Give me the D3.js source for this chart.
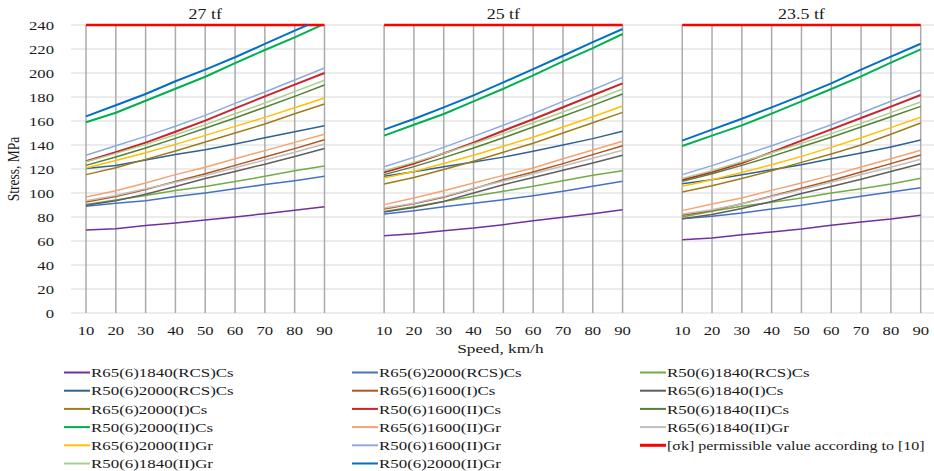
<!DOCTYPE html>
<html>
<head>
<meta charset="utf-8">
<script src="https://cdn.jsdelivr.net/npm/d3@7"></script>
<style>
  body { margin: 0; background: #fff; }
  text { font-family: "Liberation Serif", "Times New Roman", serif; fill: #1a1a1a; }
</style>
</head>
<body>
<svg id="chart" width="934" height="471"></svg>
<script>
// panels (axle load) and speeds on the category axis
const panels = ["27 tf", "25 tf", "23.5 tf"];
const speeds = [10, 20, 30, 40, 50, 60, 70, 80, 90];
const yTicks = [0, 20, 40, 60, 80, 100, 120, 140, 160, 180, 200, 220, 240];

// stress values, MPa: 9 speeds for 27 tf, then 25 tf, then 23.5 tf
const r65_1840_RCS_Cs = [69.2, 70.3, 73, 75, 77.5, 80, 82.8, 85.6, 88.6,
                         64.4, 66.1, 68.6, 70.8, 73.6, 76.9, 79.7, 82.8, 86.1,
                         61.1, 62.5, 65.3, 67.5, 70, 73.1, 75.8, 78.3, 81.4];
const r65_2000_RCS_Cs = [88.9, 91.5, 93.6, 97, 100, 103.5, 107, 110.3, 113.9,
                         82.5, 85.3, 88.6, 91.4, 94.4, 97.8, 101.4, 105.6, 109.7,
                         78.6, 80.6, 83.3, 86.7, 89.7, 93.6, 97.2, 100.8, 104.4];
const r50_1840_RCS_Cs = [90.5, 94.2, 98, 102, 105.5, 109.5, 113.9, 118.6, 122.5,
                         84.5, 88.5, 93, 97.2, 101.4, 105.6, 110.3, 114.7, 118.6,
                         80, 84.7, 88.9, 92.2, 95.8, 100, 103.6, 107.5, 112.2];
const r50_2000_RCS_Cs = [120.5, 123, 127.5, 132, 136, 140.8, 146, 151, 156,
                         113.9, 117.8, 121.8, 125.8, 129.9, 134.7, 140, 145.3, 151.4,
                         107.8, 111.1, 115.3, 119.4, 123.6, 128.6, 133.3, 138.3, 144.2];
const r65_1600_I_Cs = [92.5, 97, 103, 109.5, 116, 123, 130, 137, 144.4,
                       86.7, 91, 96.5, 103.5, 111, 117.5, 124.5, 132, 139.4,
                       81.4, 85.5, 91, 97.5, 104, 110.5, 117.5, 124.5, 131.7];
const r65_1840_I_Cs = [89.7, 93.5, 99, 105.5, 112, 118, 124, 130.5, 137,
                       84.2, 88, 93, 100, 106.9, 113, 119, 125, 131.4,
                       78.6, 82, 87, 93, 99.5, 105.5, 111.5, 118, 124.4];
const r65_2000_I_Cs = [115.3, 121, 128, 135, 142.5, 150, 157.5, 166, 174.2,
                       107.5, 113, 119.5, 126.5, 134, 141.5, 150, 158.5, 167.2,
                       100.8, 106, 112, 118.5, 125.5, 132.5, 140, 149, 158.3];
const r50_1600_II_Cs = [126.4, 134, 142, 151, 160.3, 170.5, 180.5, 190.3, 200,
                        117.2, 124.5, 133, 142, 151.9, 161.5, 171.5, 181.5, 191.4,
                        110.8, 117.5, 125, 134, 143.6, 153, 162.5, 172, 181.7];
const r50_1840_II_Cs = [123, 130, 137.5, 145.5, 154, 162.5, 171.5, 180.5, 190,
                        115.3, 122, 129.5, 137.5, 146, 155, 164, 173, 182.5,
                        109.7, 116, 123, 130.5, 138.5, 146.5, 155, 163.5, 172.2];
const r50_2000_II_Cs = [158.9, 166.9, 176.9, 186.9, 196.9, 208.3, 219.2, 229.7, 241,
                        147.8, 156.9, 165.8, 176.4, 186.9, 198, 209.7, 220.8, 232.5,
                        139.2, 147.8, 156.4, 166.1, 176.4, 186.7, 197.2, 208.6, 219.7];
const r65_1600_II_Gr = [96.7, 101.9, 108.3, 115.3, 121.4, 128.6, 135.3, 142.2, 148.9,
                        90.3, 95.8, 101.9, 108.3, 114.7, 120.8, 128.6, 135.8, 143.1,
                        85.3, 90.8, 95.8, 102.2, 108.3, 114.7, 121.7, 128.6, 135.6];
const r65_1840_II_Gr = [93.5, 98, 103.5, 109, 114.5, 121, 127.5, 134, 140.8,
                        87.5, 91.5, 97, 104, 110, 116, 122.5, 129, 135.6,
                        82.5, 86, 91, 97, 103, 109, 115.5, 121.5, 128.1];
const r65_2000_II_Gr = [120.8, 127, 133.5, 140.5, 148, 155.5, 163, 171, 179.2,
                        112.5, 118, 124.5, 131.5, 139, 146.5, 155, 163.5, 172.5,
                        105.6, 111, 117, 123.5, 130.5, 138, 146, 154.5, 163.1];
const r50_1600_II_Gr = [131.4, 139.4, 147.2, 155.6, 164.7, 174.7, 184.2, 194.2, 204.2,
                        121.9, 129.7, 138, 147.2, 156.4, 166.1, 176.4, 186.1, 196.4,
                        115.3, 122.8, 131.1, 139.4, 148, 156.9, 166.7, 176.4, 185.8];
const permissible = [240, 240, 240, 240, 240, 240, 240, 240, 240,
                     240, 240, 240, 240, 240, 240, 240, 240, 240,
                     240, 240, 240, 240, 240, 240, 240, 240, 240];
const r50_1840_II_Gr = [126, 133, 140.5, 148.5, 157, 166, 175, 184.5, 194,
                        118.5, 125.5, 133, 141, 149.5, 158.5, 167.5, 177, 186.7,
                        112, 118.5, 126, 133.5, 141.5, 149.5, 158, 167, 175.8];
const r50_2000_II_Gr = [163.9, 173.1, 182.5, 193.1, 202.8, 213.1, 224.2, 235.3, 246,
                        152.8, 161.7, 171.4, 181.4, 192.2, 203.3, 214.4, 225.8, 236.7,
                        143.6, 152.8, 161.9, 171.4, 181.1, 191.4, 202.8, 213.6, 224.4];

const seriesNames = ["R65(6)1840(RCS)Cs", "R65(6)2000(RCS)Cs", "R50(6)1840(RCS)Cs",
  "R50(6)2000(RCS)Cs", "R65(6)1600(I)Cs", "R65(6)1840(I)Cs",
  "R65(6)2000(I)Cs", "R50(6)1600(II)Cs", "R50(6)1840(II)Cs",
  "R50(6)2000(II)Cs", "R65(6)1600(II)Gr", "R65(6)1840(II)Gr",
  "R65(6)2000(II)Gr", "R50(6)1600(II)Gr", "[σk] permissible value according to [10]",
  "R50(6)1840(II)Gr", "R50(6)2000(II)Gr"];
const seriesValues = [r65_1840_RCS_Cs, r65_2000_RCS_Cs, r50_1840_RCS_Cs,
  r50_2000_RCS_Cs, r65_1600_I_Cs, r65_1840_I_Cs,
  r65_2000_I_Cs, r50_1600_II_Cs, r50_1840_II_Cs,
  r50_2000_II_Cs, r65_1600_II_Gr, r65_1840_II_Gr,
  r65_2000_II_Gr, r50_1600_II_Gr, permissible,
  r50_1840_II_Gr, r50_2000_II_Gr];
const seriesColors = ["#7030a0", "#4472c4", "#70ad47",
  "#2e6294", "#b0561e", "#5f5f5f",
  "#9e7c1a", "#cc2229", "#548235",
  "#00b050", "#f4a370", "#bfbfbf",
  "#ffc000", "#8eaadb", "#ff0000",
  "#a9d18e", "#0070c0"];
const seriesWidths = [1.5, 1.5, 1.5, 1.5, 1.5, 1.5, 1.5, 2, 1.5, 2, 1.5, 1.5, 1.5, 1.5, 2.5, 1.5, 2];

const svg = d3.select("#chart");
const sx = 1.28; // the reference text is stretched horizontally

// category slots: 9 speeds per panel with one empty slot between panels
const slots = [];
panels.forEach((p, pi) => {
  if (pi > 0) slots.push("gap" + pi);
  speeds.forEach(s => slots.push(p + "|" + s));
});
const x = d3.scalePoint().domain(slots).range([86, 920.7]);
const step = x.step();
const y = d3.scaleLinear().domain([0, 240]).range([313, 25]);
const left = 86 - step / 2, right = 920.7 + step / 2;

function stretchText(g, px, py, str, opt) {
  opt = opt || {};
  const t = g.append("text")
    .attr("transform", `translate(${px},${py}) scale(${sx},1)` + (opt.rotate ? ` rotate(${opt.rotate})` : ""))
    .attr("text-anchor", opt.anchor || "start")
    .style("font-size", (opt.size || 13) + "px")
    .text(str);
  if (opt.dy) t.attr("dy", opt.dy);
  return t;
}

// horizontal grid
svg.append("g").selectAll("line").data(yTicks).enter().append("line")
  .attr("x1", left).attr("x2", right)
  .attr("y1", d => y(d)).attr("y2", d => y(d))
  .attr("stroke", "#d9d9d9").attr("stroke-width", 1.2);

// vertical grid only on data categories
svg.append("g").selectAll("line").data(slots.filter(s => !s.startsWith("gap"))).enter().append("line")
  .attr("x1", d => x(d)).attr("x2", d => x(d))
  .attr("y1", y(240)).attr("y2", y(0))
  .attr("stroke", "#ababab").attr("stroke-width", 1.5);

// y tick labels
const yl = svg.append("g");
yTicks.forEach(t => stretchText(yl, 54, y(t), t, { anchor: "end", dy: "0.35em", size: 13 }));

// x tick labels and panel titles
const xl = svg.append("g");
panels.forEach(p => {
  speeds.forEach(s => stretchText(xl, x(p + "|" + s), 335, s, { anchor: "middle", size: 13 }));
  const cx = (x(p + "|10") + x(p + "|90")) / 2;
  stretchText(xl, cx, 19, p, { anchor: "middle", size: 14 });
});

// axis titles
stretchText(svg, (left + right) / 2 - 3, 353, "Speed, km/h", { anchor: "middle", size: 13.5 });
stretchText(svg, 19, y(120), "Stress, MPa", { anchor: "middle", size: 13.5, rotate: -90 });

// lines, clipped to the plot area
svg.append("clipPath").attr("id", "plot")
  .append("rect").attr("x", left).attr("y", y(240)).attr("width", right - left).attr("height", y(0) - y(240));

const line = d3.line().x(d => d[0]).y(d => d[1]);
const lines = svg.append("g");
seriesValues.forEach((vals, si) => {
  panels.forEach((p, pi) => {
    const pts = speeds.map((s, i) => [x(p + "|" + s), y(vals[pi * 9 + i])]);
    lines.append("path")
      .attr("d", line(pts))
      .attr("fill", "none")
      .attr("stroke", seriesColors[si])
      .attr("stroke-width", seriesWidths[si])
      .attr("stroke-linejoin", "round")
      .attr("clip-path", vals === permissible ? null : "url(#plot)");
  });
});

// legend: 3 columns, row-major
const leg = svg.append("g");
const colX = [64, 352, 640];
seriesNames.forEach((name, i) => {
  const cx = colX[i % 3];
  const cy = 372.5 + Math.floor(i / 3) * 18.2;
  leg.append("line")
    .attr("x1", cx).attr("x2", cx + 26).attr("y1", cy).attr("y2", cy)
    .attr("stroke", seriesColors[i])
    .attr("stroke-width", seriesValues[i] === permissible ? 3 : 2);
  const isPerm = seriesValues[i] === permissible;
  stretchText(leg, cx + 27, cy, name, { dy: "0.35em", size: isPerm ? 12.5 : 13.2 });
});
</script>
</body>
</html>
